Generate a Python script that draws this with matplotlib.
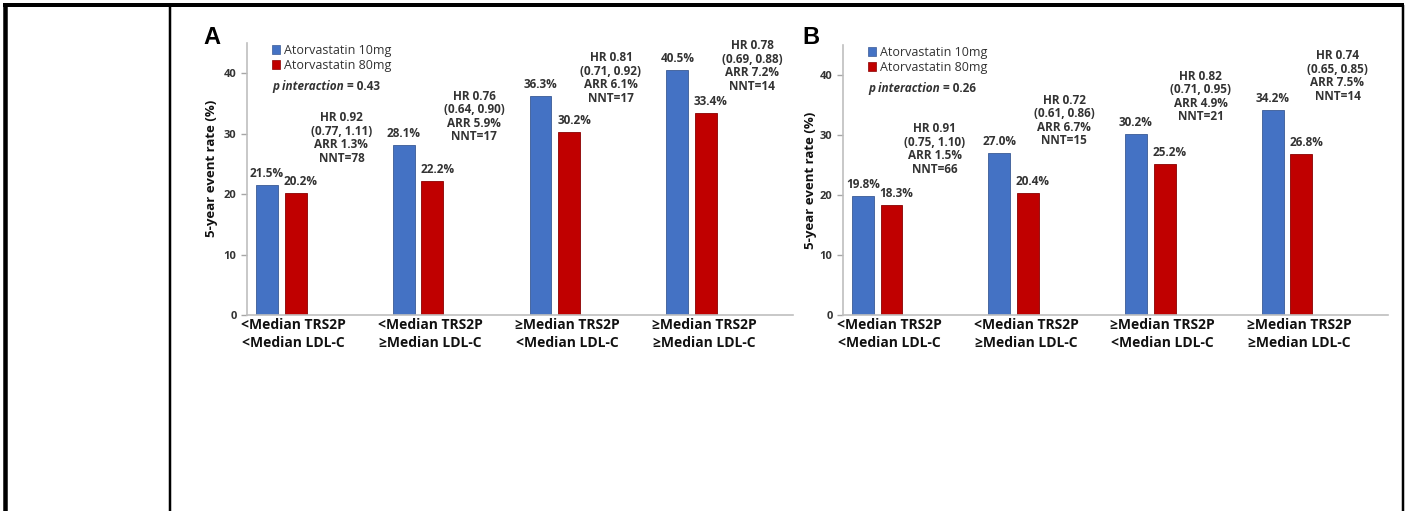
import numpy as np
import matplotlib.pyplot as plt
from matplotlib.patches import Patch
from matplotlib.lines import Line2D

# Data
groups = ['<Median TRS2P\n<Median LDL-C', '<Median TRS2P\n\u2265Median LDL-C',
          '\u2265Median TRS2P\n<Median LDL-C', '\u2265Median TRS2P\n\u2265Median LDL-C']
series = ['Atorvastatin 10mg', 'Atorvastatin 80mg']

a_low = [21.5, 28.1, 36.3, 40.5]
a_high = [20.2, 22.2, 30.2, 33.4]
a_hr = ['HR 0.92\n(0.77, 1.11)\nARR 1.3%\nNNT=78',
        'HR 0.76\n(0.64, 0.90)\nARR 5.9%\nNNT=17',
        'HR 0.81\n(0.71, 0.92)\nARR 6.1%\nNNT=17',
        'HR 0.78\n(0.69, 0.88)\nARR 7.2%\nNNT=14']
a_p = '0.43'

b_low = [19.8, 27.0, 30.2, 34.2]
b_high = [18.3, 20.4, 25.2, 26.8]
b_hr = ['HR 0.91\n(0.75, 1.10)\nARR 1.5%\nNNT=66',
        'HR 0.72\n(0.61, 0.86)\nARR 6.7%\nNNT=15',
        'HR 0.82\n(0.71, 0.95)\nARR 4.9%\nNNT=21',
        'HR 0.74\n(0.65, 0.85)\nARR 7.5%\nNNT=14']
b_p = '0.26'

# layout of the HR text blocks (x offset from group, y centre)
a_hr_pos = [(0.44, 29.3), (0.41, 32.8), (0.41, 39.2), (0.44, 41.2)]
b_hr_pos = [(0.42, 27.7), (0.37, 32.4), (0.37, 36.4), (0.37, 39.8)]

BLUE = '#4472C4'
RED = '#C00000'
FONT = ['Open Sans', 'DejaVu Sans']
plt.rcParams['font.family'] = FONT

W, H = 1407, 511
fig = plt.figure(figsize=(W / 100, H / 100), dpi=100)


def draw_panel(rect, low, high, hr, hr_pos, p, letter, letter_x, ylab_pos):
    ax = fig.add_axes(rect)
    x = np.arange(len(groups))
    w = 0.16
    ax.bar(x - 0.105, low, w, color=BLUE, edgecolor='#3a5a95', lw=0.6)
    ax.bar(x + 0.105, high, w, color=RED, edgecolor='#8a0000', lw=0.6)
    for i in range(len(x)):
        ax.text(x[i] - 0.105, low[i] + 1.9, f'{low[i]:.1f}%', ha='center', va='center',
                fontsize=8.5, fontweight='bold', color='#333333')
        ax.text(x[i] + 0.14, high[i] + 1.9, f'{high[i]:.1f}%', ha='center', va='center',
                fontsize=8.5, fontweight='bold', color='#333333')
        ax.text(x[i] + hr_pos[i][0], hr_pos[i][1], hr[i], ha='center', va='center',
                fontsize=8.5, fontweight='bold', color='#333333', linespacing=1.05)

    ax.set_xlim(-0.25, 3.74)
    ax.set_ylim(0, 45)
    ax.set_yticks([0, 10, 20, 30, 40])
    ax.set_xticks(x + 0.09)
    ax.set_xticklabels(groups, fontsize=10, fontweight='bold', color='#111111',
                       linespacing=1.4)
    ax.tick_params(axis='x', length=0, pad=2)
    ax.tick_params(axis='y', length=4, width=1, color='#A6A6A6', labelsize=8,
                   labelcolor='#333333')
    for t in ax.get_yticklabels():
        t.set_fontweight('bold')
    for s in ['top', 'right']:
        ax.spines[s].set_visible(False)
    for s in ['left', 'bottom']:
        ax.spines[s].set_color('#BFBFBF')
        ax.spines[s].set_linewidth(1.2)
    ax.set_ylabel('5-year event rate (%)', fontsize=9.5, fontweight='bold',
                  color='#111111')
    ax.yaxis.set_label_coords(*ylab_pos)

    handles = [Patch(facecolor=BLUE, edgecolor='#3a5a95', lw=0.5),
               Patch(facecolor=RED, edgecolor='#8a0000', lw=0.5)]
    ax.legend(handles, series, loc='upper left', bbox_to_anchor=(0.045, 0.998),
              frameon=False, handlelength=0.7, handleheight=0.7,
              handletextpad=0.3, labelspacing=0.2, borderpad=0, borderaxespad=0,
              prop={'size': 9, 'family': FONT}, labelcolor='#333333')
    pt = ax.text(0.047, 0.84, 'p interaction', transform=ax.transAxes, ha='left',
                 va='center', fontsize=8.5, fontweight='bold', style='italic',
                 color='#333333')
    ax.annotate(f' = {p}', xy=(1, 0.5), xycoords=pt, ha='left', va='center',
                fontsize=8.5, fontweight='bold', color='#333333')
    fig.text(letter_x / W, 1 - 37 / H, letter, ha='left', va='center',
             fontsize=17, fontweight='bold', family=['Liberation Sans', 'DejaVu Sans'])
    return ax


draw_panel([247 / W, 1 - 315 / H, 546 / W, 272 / H], a_low, a_high, a_hr,
           a_hr_pos, a_p, 'A', 203, (-0.053, 0.54))
draw_panel([843 / W, 1 - 315 / H, 545 / W, 270 / H], b_low, b_high, b_hr,
           b_hr_pos, b_p, 'B', 802, (-0.047, 0.5))

# page frame around the figure
def fline(x0, y0, x1, y1, px):
    fig.add_artist(Line2D([x0 / W, x1 / W], [1 - y0 / H, 1 - y1 / H],
                          color='black', lw=px * 0.72, solid_capstyle='butt'))

fline(3, 5, 1404, 5, 4)
fline(5, 3, 5, 511, 4.5)
fline(170, 5, 170, 511, 2.5)
fline(1403, 5, 1403, 511, 2.5)

fig.savefig('out.png', dpi=100)
